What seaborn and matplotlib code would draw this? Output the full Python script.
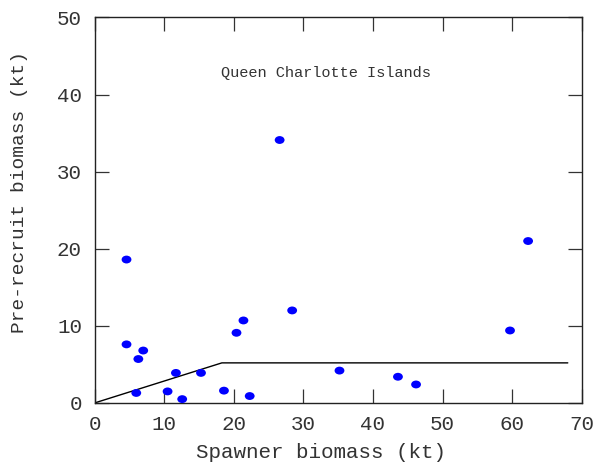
import numpy as np
import pandas as pd
import matplotlib
matplotlib.use("Agg")
import matplotlib.pyplot as plt
from matplotlib.path import Path
from matplotlib.transforms import Affine2D
import seaborn as sns

# Data
spawner = [4.6, 4.6, 7.0, 6.3, 11.7, 15.3, 6.0, 10.5, 12.6, 18.6, 22.3,
           20.4, 21.4, 28.4, 26.6, 35.2, 43.6, 46.2, 59.7, 62.3]
recruit = [18.6, 7.6, 6.8, 5.7, 3.9, 3.9, 1.3, 1.5, 0.5, 1.6, 0.9,
           9.1, 10.7, 12.0, 34.1, 4.2, 3.4, 2.4, 9.4, 21.0]
cutoff_x = [0, 18.3, 68.0]
cutoff_y = [0, 5.2, 5.2]
x_ticks = [0, 10, 20, 30, 40, 50, 60, 70]
y_ticks = [0, 10, 20, 30, 40, 50]
title_text = "Queen Charlotte Islands"
x_label = "Spawner biomass (kt)"
y_label = "Pre-recruit biomass (kt)"

sns.set_theme(style="ticks")
plt.rcParams['font.family'] = ['Liberation Mono', 'DejaVu Sans']

fig = plt.figure(figsize=(6.0, 4.7), dpi=100)
ax = fig.add_axes([0.1575, 0.1426, 0.812, 0.8204])

df = pd.DataFrame({"spawner": spawner, "recruit": recruit})
line_df = pd.DataFrame({"x": cutoff_x, "y": cutoff_y})

ellipse = Path.unit_circle().transformed(Affine2D().scale(1.25, 1.0))

sns.lineplot(data=line_df, x="x", y="y", color="black", linewidth=1.0, ax=ax,
             sort=False, estimator=None)
sns.scatterplot(data=df, x="spawner", y="recruit", marker=ellipse, s=50,
                color="#0000ff", edgecolor="none", linewidth=0, ax=ax, zorder=3)

ax.set_xlim(0, 70)
ax.set_ylim(0, 50)
ax.set_xticks(x_ticks)
ax.set_yticks(y_ticks)
ax.tick_params(direction="in", length=10, width=0.9, top=True, right=True,
               labelsize=15, colors="#333333", pad=9)
for sp in ax.spines.values():
    sp.set_visible(True)
    sp.set_linewidth(1.0)
    sp.set_color("#222222")

ax.set_xlabel(x_label, fontsize=15, color="#333333")
ax.set_ylabel(y_label, fontsize=14, color="#333333")
ax.xaxis.set_label_coords(0.465, -0.105)
ax.yaxis.set_label_coords(-0.137, 0.547)
ax.text(33.3, 42.8, title_text, fontsize=11, color="#333333",
        ha="center", va="center")

fig.savefig("out.png", dpi=100)
